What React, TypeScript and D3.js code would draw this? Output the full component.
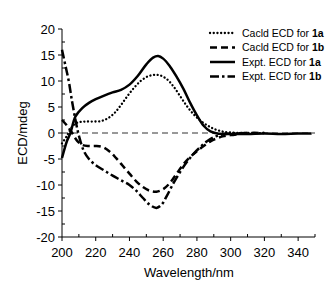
import React from "react";
import * as d3 from "d3";

type Pt = [number, number];

const calcd1a: Pt[] = [
  [200, -2], [203, -0.5], [206, 1.2], [209, 2], [213, 2.2], [218, 2.2], [223, 2.3],
  [227, 2.8], [231, 3.8], [235, 5.4], [239, 7.2], [243, 8.8], [247, 10.1], [251, 10.9],
  [255, 11.2], [258, 11.1], [262, 10.4], [266, 9], [270, 7.1], [274, 5.2], [278, 3.6],
  [282, 2.4], [286, 1.5], [290, 0.8], [295, 0.3], [300, 0.1], [310, 0], [320, 0],
];
const calcd1b: Pt[] = [
  [200, 2.5], [203, 1.4], [206, 0], [209, -1.5], [212, -2.3], [216, -2.5], [220, -2.5],
  [224, -2.7], [228, -3.5], [232, -4.8], [236, -6.3], [240, -7.8], [244, -9.3], [248, -10.4],
  [252, -11.1], [256, -11.3], [260, -10.8], [264, -9.6], [268, -7.8], [272, -6], [276, -4.6],
  [280, -3.5], [284, -2.5], [288, -1.6], [292, -1], [296, -0.6], [300, -0.4], [305, -0.2],
  [310, 0], [320, 0],
];
const expt1a: Pt[] = [
  [200, -4.8], [203, -1.5], [205, 0], [208, 3.2], [212, 4.8], [216, 5.8], [220, 6.5],
  [225, 7.2], [230, 7.8], [235, 8.3], [240, 9.3], [245, 11], [250, 13.2], [254, 14.5],
  [257, 14.8], [260, 14.3], [264, 12.8], [268, 10.8], [272, 8.5], [276, 5.8], [280, 3.4],
  [284, 1.4], [288, 0.3], [292, -0.1], [300, -0.2], [310, -0.2], [320, -0.1], [330, -0.2],
  [340, -0.1], [348, -0.1],
];
const expt1b: Pt[] = [
  [200, 16], [202, 13], [204, 10], [206, 6], [208, 2.5], [210, -0.5], [213, -3.5],
  [216, -5], [220, -6.2], [225, -7.2], [230, -8.2], [235, -9.1], [240, -10], [244, -11.1],
  [248, -12.5], [252, -13.8], [256, -14.4], [259, -13.8], [262, -12.2], [266, -9.7],
  [270, -7.5], [274, -5.6], [278, -4], [282, -2.7], [286, -1.6], [290, -0.8], [295, -0.3],
  [300, -0.1], [310, 0],
];

const xTicks = [200, 220, 240, 260, 280, 300, 320, 340];
const xMinor = [210, 230, 250, 270, 290, 310, 330, 350];
const yTicks = [-20, -15, -10, -5, 0, 5, 10, 15, 20];
const yMinor = [-17.5, -12.5, -7.5, -2.5, 2.5, 7.5, 12.5, 17.5];

const legendLabels = ["Cacld ECD for ", "Cacld ECD for ", "Expt. ECD for ", "Expt. ECD for "];
const legendBold = ["1a", "1b", "1a", "1b"];

const W = 336, H = 291;
const x = d3.scaleLinear().domain([200, 350]).range([62, 315]);
const y = d3.scaleLinear().domain([-20, 20]).range([237, 29]);

const line = d3
  .line<Pt>()
  .x((d) => x(d[0]))
  .y((d) => y(d[1]))
  .curve(d3.curveCatmullRom.alpha(0.5));

const styles = [
  { data: calcd1a, dash: "0.1,3.6", width: 2.3, cap: "round" },
  { data: calcd1b, dash: "7,4", width: 2.5, cap: "butt" },
  { data: expt1a, dash: "none", width: 2.5, cap: "butt" },
  { data: expt1b, dash: "9,3,2.5,3", width: 2.5, cap: "butt" },
];

export default function App() {
  const font = "'Liberation Sans', Arial, sans-serif";
  return (
    <svg
      width={W}
      height={H}
      style={{ position: "absolute", left: 0, top: 0, background: "#fff" }}
      fontFamily={font}
    >
      <line x1={x(200)} x2={x(350)} y1={y(0)} y2={y(0)} stroke="#333" strokeWidth={1} strokeDasharray="6,4" />
      <line x1={x(200)} x2={x(200)} y1={y(-20)} y2={y(20)} stroke="#000" strokeWidth={1} />
      <line x1={x(200)} x2={x(350)} y1={y(-20)} y2={y(-20)} stroke="#000" strokeWidth={1} />
      {yTicks.map((t) => (
        <g key={"y" + t}>
          <line x1={x(200) - 4} x2={x(200)} y1={y(t)} y2={y(t)} stroke="#000" />
          <text x={x(200) - 7} y={y(t)} dy="0.35em" textAnchor="end" fontSize={13}>
            {t}
          </text>
        </g>
      ))}
      {yMinor.map((t) => (
        <line key={"ym" + t} x1={x(200)} x2={x(200) + 3} y1={y(t)} y2={y(t)} stroke="#000" />
      ))}
      {xTicks.map((t) => (
        <g key={"x" + t}>
          <line x1={x(t)} x2={x(t)} y1={y(-20)} y2={y(-20) + 4} stroke="#000" />
          <text x={x(t)} y={y(-20) + 20} textAnchor="middle" fontSize={13}>
            {t}
          </text>
        </g>
      ))}
      {xMinor.map((t) => (
        <line key={"xm" + t} x1={x(t)} x2={x(t)} y1={y(-20)} y2={y(-20) - 3} stroke="#000" />
      ))}
      <text x={189} y={277} textAnchor="middle" fontSize={13}>
        Wavelength/nm
      </text>
      <text transform={`translate(22,${y(0)}) rotate(-90)`} textAnchor="middle" dy="0.35em" fontSize={13}>
        ECD/mdeg
      </text>
      {styles.map((s, i) => (
        <path
          key={i}
          d={line(s.data) || ""}
          fill="none"
          stroke="#000"
          strokeWidth={s.width}
          strokeDasharray={s.dash}
          strokeLinecap={s.cap as any}
        />
      ))}
      {styles.map((s, i) => {
        const ly = 33 + i * 14.5;
        return (
          <g key={"l" + i}>
            <line x1={210} x2={235} y1={ly} y2={ly} stroke="#000" strokeWidth={s.width} strokeDasharray={s.dash} strokeLinecap={s.cap as any} />
            <text x={242} y={ly} dy="0.35em" fontSize={10.5}>
              {legendLabels[i]}
              <tspan fontWeight="bold">{legendBold[i]}</tspan>
            </text>
          </g>
        );
      })}
    </svg>
  );
}
